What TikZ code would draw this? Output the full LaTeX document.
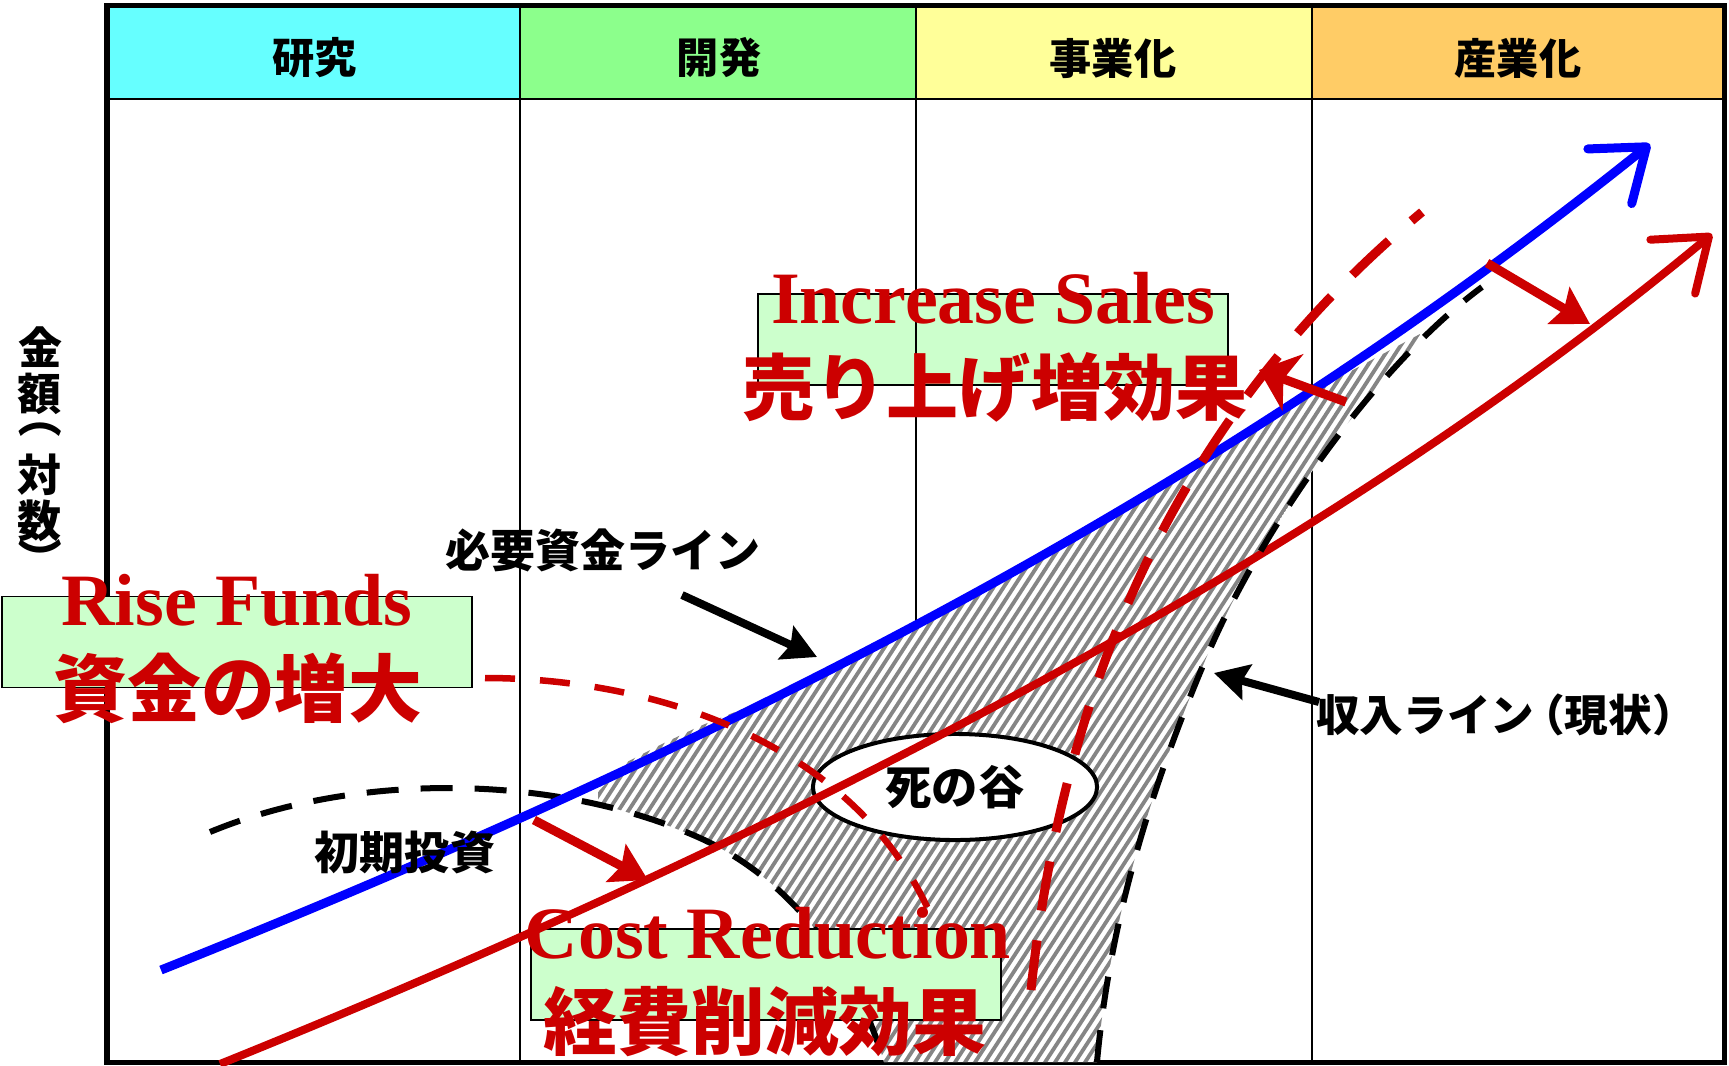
\documentclass[tikz,border=0pt]{standalone}
\usepackage{graphicx}
\usepackage{fontspec}
\setmainfont{Liberation Serif}
\newfontfamily\jp{Noto Sans CJK JP}
\usetikzlibrary{arrows.meta,shapes.geometric}
\definecolor{hcyan}{HTML}{66FFFF}
\definecolor{hgreen}{HTML}{8CFF8C}
\definecolor{hyellow}{HTML}{FFFF99}
\definecolor{horange}{HTML}{FFCC66}
\definecolor{boxgreen}{HTML}{CCFFCC}
\definecolor{dred}{HTML}{CC0000}
\definecolor{pureblue}{HTML}{0000FF}
\definecolor{hatchgray}{HTML}{858585}
\newcommand\vkanji[1]{\makebox[1.05em]{\rotatebox[origin=c]{90}{#1}}}
\begin{document}
\begin{tikzpicture}[x=0.01cm,y=-0.01cm,
  hdrtxt/.style={font=\jp\bfseries\fontsize{12}{14}\selectfont, inner sep=0pt},
  lbl/.style={font=\jp\bfseries\fontsize{12.8}{15}\selectfont, inner sep=0pt},
  greenbox/.style={draw=black, fill=boxgreen, line width=0.015cm, minimum width=4.7cm, minimum height=0.91cm, inner sep=0pt},
  redtxt/.style={font=\bfseries\fontsize{21}{24}\selectfont, text=dred, inner sep=0pt},
  redjp/.style={font=\jp\bfseries\fontsize{21}{24}\selectfont, text=dred, inner sep=0pt},
  gridline/.style={line width=0.02cm},
  bdash/.style={draw=black, line width=0.06cm, dash pattern=on 0.32cm off 0.22cm},
  rdash/.style={draw=dred, line width=0.065cm, dash pattern=on 0.3cm off 0.25cm},
  rdashthick/.style={draw=dred, line width=0.09cm, dash pattern=on 0.5cm off 0.3cm},
  blueline/.style={draw=pureblue, line width=0.09cm, -{Straight Barb[length=0.47cm, width=0.7cm, round]}},
  redline/.style={draw=dred, line width=0.08cm, -{Straight Barb[length=0.47cm, width=0.7cm, round]}},
  fatred/.style={draw=dred, line width=0.09cm, -{Stealth[length=0.36cm, width=0.42cm, inset=0.06cm]}},
  fatblack/.style={draw=black, line width=0.08cm, -{Stealth[length=0.34cm, width=0.36cm, inset=0.05cm]}}
]
\useasboundingbox (0,0) rectangle (1729,1066);
% header
\fill[hcyan] (107,5) rectangle (520,99);
\fill[hgreen] (520,5) rectangle (916,99);
\fill[hyellow] (916,5) rectangle (1312,99);
\fill[horange] (1312,5) rectangle (1724,99);
% box behind the grid
\node[greenbox] (boxsales) at (993,339.5) {};
% grid
\draw[gridline] (520,5) -- (520,1062);
\draw[gridline] (916,5) -- (916,1062);
\draw[gridline] (1312,5) -- (1312,1062);
\draw[gridline] (107,99) -- (1724,99);
\draw[line width=0.05cm] (107,5) rectangle (1724,1062);
% hatched valley
\begin{scope}
\clip (598,792) -- (625,763) -- (660,745) -- (700,726) -- (740,710) -- (768,701) -- (846,661) -- (995,582) -- (1137,500) -- (1273,416) -- (1338,378) -- (1420,334) -- (1420,1062) -- (598,1062) -- cycle;
\clip (884,1062) -- (1097,1062) .. controls (1110,920) and (1150,790) .. (1207,656) .. controls (1257,538) and (1370,370) .. (1482,287) -- (1482,200) -- (560,200) -- (561,797) -- (610,807) -- (656,821) -- (700,838) .. controls (800,883) and (860,980) .. (884,1062) -- cycle;
\fill[white] (500,150) rectangle (1550,1070);
\foreach \k in {0,...,150} \draw[hatchgray, line width=0.038cm] ({40+10*\k},1070) -- ({600+10*\k},208);
\end{scope}
% ellipse
\node[ellipse, draw=black, fill=white, line width=0.04cm, minimum width=2.84cm, minimum height=1.06cm, inner sep=0pt, font=\jp\bfseries\fontsize{13.2}{15}\selectfont] (valley) at (955,787) {死の谷};
% coordinates
\coordinate (bS) at (161,970);
\coordinate (bE) at (1650,144);
\coordinate (rS) at (220,1064);
\coordinate (rE) at (1712,234);
\coordinate (iS) at (210,832);
\coordinate (iE) at (884,1062);
\coordinate (sS) at (1097,1062);
\coordinate (sE) at (1482,287);
\coordinate (fS) at (485,678);
\coordinate (fE) at (935,925);
\coordinate (uS) at (1031,990);
\coordinate (uE) at (1422,212);
\coordinate (a1S) at (534,820);
\coordinate (a1E) at (648,880);
\coordinate (a2S) at (1346,402);
\coordinate (a2E) at (1259,370);
\coordinate (a3S) at (1487,263);
\coordinate (a3E) at (1590,324);
\coordinate (k1S) at (682,595);
\coordinate (k1E) at (817,657);
\coordinate (k2S) at (1319,702);
\coordinate (k2E) at (1214,673);
% initial investment curve (under the boxes)
\draw[bdash] (iS) .. controls (360,770) and (560,775) .. (700,838) .. controls (800,883) and (860,980) .. (iE);
% other boxes
\node[greenbox] (boxfunds) at (237,642) {};
\node[greenbox] (boxcost) at (766,974.5) {};
% solid lines
\draw[blueline] (bS) .. controls (800,715) and (1250,465) .. (bE);
\draw[redline] (rS) .. controls (800,830) and (1320,560) .. (rE);
% arrows
\draw[fatred] (a1S) -- (a1E);
\draw[fatred, -{Stealth[length=0.36cm, width=0.6cm, inset=0.1cm]}] (a2S) -- (a2E);
\draw[fatred] (a3S) -- (a3E);
\draw[fatblack] (k1S) -- (k1E);
\draw[fatblack] (k2S) -- (k2E);
% dashed lines
\draw[bdash] (sS) .. controls (1110,920) and (1150,790) .. (1207,656) .. controls (1257,538) and (1370,370) .. (sE);
\draw[rdash] (fS) .. controls (650,678) and (860,740) .. (fE);
\draw[rdashthick] (uS) .. controls (1070,620) and (1220,380) .. (uE);
% header labels
\node[hdrtxt] (h1) at (315,58) {研究};
\node[hdrtxt] (h2) at (719,58) {開発};
\node[hdrtxt] (h3) at (1113,58) {事業化};
\node[hdrtxt] (h4) at (1518,58) {産業化};
% axis label (vertical writing)
\node[rotate=-90, inner sep=0pt, font=\jp\bfseries\fontsize{12.5}{14}\selectfont] (ylab) at (40,453) {\vkanji{金}\vkanji{額}\kern-0.5em（\kern0.3em\vkanji{対}\vkanji{数}\kern-0.15em）};
% black labels
\node[lbl] (need) at (603,550) {必要資金ライン};
\node[lbl, font=\jp\bfseries\fontsize{12.4}{15}\selectfont] (income) at (1506,715) {収入ライン\kern-0.3em（現状）};
\node[lbl] (initial) at (405,852) {初期投資};
% red labels
\node[redtxt, anchor=base] (rf) at (237,625) {Rise Funds};
\node[redjp] (rfj) at (238,688) {資金の増大};
\node[redtxt, anchor=base] (is) at (993,323) {Increase Sales};
\node[redjp, font=\jp\bfseries\fontsize{20.5}{24}\selectfont] (isj) at (995,387) {売り上げ増効果};
\node[redtxt, anchor=base] (cr) at (768,958) {Cost Reduction};
\node[redjp] (crj) at (765,1022) {経費削減効果};
\end{tikzpicture}
\end{document}
